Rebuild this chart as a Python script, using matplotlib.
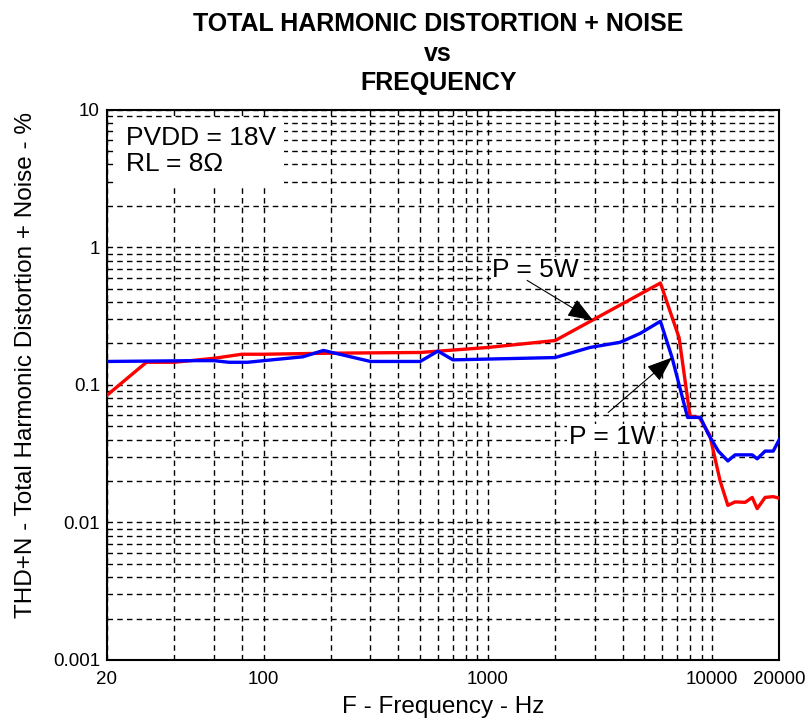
import numpy as np
import matplotlib.pyplot as plt
from matplotlib.ticker import FixedLocator, NullFormatter

plt.rcParams['font.family'] = ['Liberation Sans', 'DejaVu Sans']

# THD+N curves, PVDD = 18 V into 8 ohm
freq_5w = [20, 30, 40, 60, 80, 100, 200, 500, 1000, 2000, 5900, 7150, 8000, 8800,
           9800, 10900, 11800, 12700, 14100, 15150, 15950, 17300, 18800, 20000]
thd_5w = [0.084, 0.146, 0.146, 0.156, 0.167, 0.167, 0.170, 0.172, 0.187, 0.21, 0.55, 0.22,
          0.059, 0.058, 0.043, 0.020, 0.0133, 0.0141, 0.014, 0.0152, 0.0126, 0.0152,
          0.0154, 0.015]

freq_1w = [20, 50, 60, 70, 85, 100, 150, 185, 300, 500, 600, 700, 2000, 2860, 3900,
           4800, 5900, 6650, 7800, 8900, 9640, 10700, 11800, 12700, 15150, 15950,
           17300, 18800, 20000]
thd_1w = [0.148, 0.150, 0.150, 0.146, 0.146, 0.150, 0.160, 0.178, 0.148, 0.148, 0.176,
          0.152, 0.158, 0.187, 0.204, 0.237, 0.29, 0.158, 0.058, 0.058, 0.044, 0.033,
          0.028, 0.031, 0.031, 0.029, 0.033, 0.033, 0.040]

x_major = [20, 100, 1000, 10000, 20000]
x_major_labels = ['20', '100', '1000', '10000', '20000']
x_minor = [40, 60, 80] + [m * 100 for m in range(2, 10)] + [m * 1000 for m in range(2, 10)]
y_major = [0.001, 0.01, 0.1, 1, 10]
y_major_labels = ['0.001', '0.01', '0.1', '1', '10']
y_minor = [m * d for d in [0.001, 0.01, 0.1, 1] for m in range(2, 10)]

fig = plt.figure(figsize=(8.1, 7.24), dpi=100)
ax = fig.add_axes([0.132, 0.0884, 0.830, 0.760])

ax.plot(freq_5w, thd_5w, color='#ff0000', lw=2.4, zorder=3)
ax.plot(freq_1w, thd_1w, color='#0000ff', lw=2.4, zorder=3)

ax.set_xscale('log')
ax.set_yscale('log')
ax.set_xlim(20, 20000)
ax.set_ylim(0.001, 10)

ax.xaxis.set_major_locator(FixedLocator(x_major))
ax.xaxis.set_minor_locator(FixedLocator(x_minor))
ax.set_xticklabels(x_major_labels, fontsize=13.5)
ax.xaxis.set_minor_formatter(NullFormatter())
ax.yaxis.set_major_locator(FixedLocator(y_major))
ax.yaxis.set_minor_locator(FixedLocator(y_minor))
ax.set_yticklabels(y_major_labels, fontsize=13.5)
ax.yaxis.set_minor_formatter(NullFormatter())

ax.tick_params(which='both', length=0)
ax.tick_params(axis='x', pad=8)
ax.tick_params(axis='y', pad=5)
ax.grid(which='both', color='black', linestyle=(0, (4, 3)), linewidth=1.0)
for s in ax.spines.values():
    s.set_linewidth(1.5)

ax.set_xlabel('F - Frequency - Hz', fontsize=17.5, labelpad=6)
ax.set_ylabel('THD+N - Total Harmonic Distortion + Noise - %', fontsize=17.5)
ax.yaxis.set_label_coords(-0.104, 0.536)
fig.text(0.541, 0.926, 'TOTAL HARMONIC DISTORTION + NOISE\nvs\nFREQUENCY',
         ha='center', va='center', fontsize=18, fontweight='bold', linespacing=1.29)

ax.text(24.3, 7.6, 'PVDD = 18V\nRL = 8\u03a9', fontsize=19, va='top', ha='left',
        linespacing=1.12, zorder=4,
        bbox=dict(facecolor='white', edgecolor='none', pad=6))

# curve labels with separate pointer arrows
arrow = dict(arrowstyle='-|>,head_length=0.8,head_width=0.3', color='black', lw=0.8,
             mutation_scale=20, shrinkA=0, shrinkB=0)
ax.text(1630, 0.68, 'P = 5W', fontsize=19, ha='center', va='center', zorder=4,
        bbox=dict(facecolor='white', edgecolor='none', pad=1))
ax.annotate('', xy=(2957, 0.294), xytext=(1500, 0.575), arrowprops=arrow, zorder=4)
ax.text(3590, 0.0415, 'P = 1W', fontsize=19, ha='center', va='center', zorder=4,
        bbox=dict(facecolor='white', edgecolor='none', pad=1))
ax.annotate('', xy=(6650, 0.158), xytext=(3450, 0.063), arrowprops=arrow, zorder=4)

fig.savefig('out.png', dpi=100)
